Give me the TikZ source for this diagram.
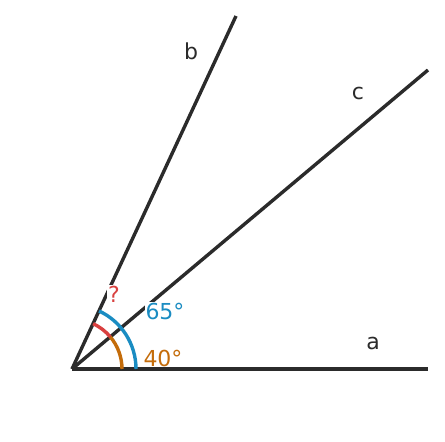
\documentclass[tikz,border=0pt]{standalone}
\usepackage{fontspec}
\setmainfont{DejaVu Sans}
\usepackage{tikz}
\definecolor{ray}{HTML}{2B2B2B}
\definecolor{blueang}{HTML}{1A8CC2}
\definecolor{orangeang}{HTML}{C46C0A}
\definecolor{redang}{HTML}{D9403F}

\begin{document}
\begin{tikzpicture}[x=1pt,y=1pt,line width=3.4pt]
				\useasboundingbox (0,0) rectangle (445,442);
				% rays from the vertex
				\coordinate (O) at (72,73);
				\coordinate (A) at (428,73);
				\coordinate (C) at (428,372);
				\coordinate (B) at (236,426);
				\draw[ray] (O) -- (A);
				\draw[ray] (O) -- (C);
				\draw[ray] (O) -- (B);
				
				% angle arcs
				\draw[orangeang] ([shift={(0:50)}]O) arc (0:40:50);
				\draw[redang] ([shift={(40:50)}]O) arc (40:65:50);
				\draw[blueang] ([shift={(0:64)}]O) arc (0:65:64);
				
				% labels
				\node[fill=white, inner sep=1pt, text=ray, font=\fontsize{22}{26}\selectfont] (la) at (373,99) {a};
				\node[fill=white, inner sep=1pt, text=ray, font=\fontsize{22}{26}\selectfont] (lb) at (191,391) {b};
				\node[fill=white, inner sep=1pt, text=ray, font=\fontsize{22}{26}\selectfont] (lc) at (358,349) {c};
				\node[fill=white, inner sep=1pt, text=redang, font=\fontsize{22}{26}\selectfont] (q) at (114,148) {?};
				\node[fill=white, inner sep=1pt, text=blueang, font=\fontsize{22}{26}\selectfont] (l65) at (165,131) {65°};
				\node[fill=white, inner sep=1pt, text=orangeang, font=\fontsize{22}{26}\selectfont] (l40) at (163,84) {40°};
			\end{tikzpicture}
\end{document}
